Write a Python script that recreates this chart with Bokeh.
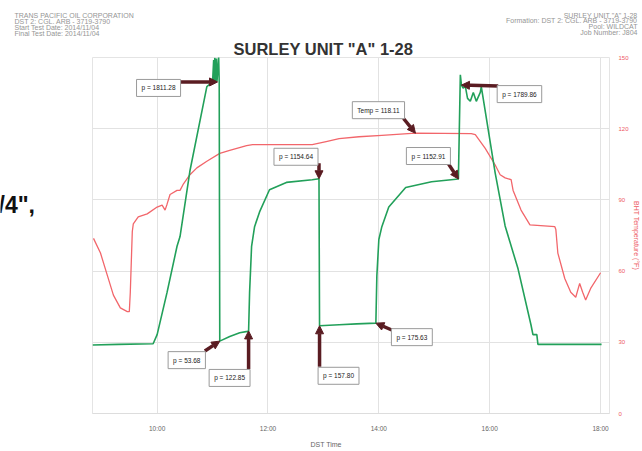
from bokeh.plotting import figure
from bokeh.models import Range1d, FixedTicker, Label, Arrow, NormalHead, ColumnDataSource, Title
from bokeh.layouts import column, row
from bokeh.core.properties import value
from bokeh.embed import file_html
from bokeh.resources import INLINE

# ---------------- data ----------------
# pressure trace (hours, psi)
time_p = [8.834, 9.3, 9.928, 10.0, 10.179, 10.359, 10.413, 10.592, 10.897, 11.0,
          11.02, 11.03, 11.04, 11.05, 11.07, 11.08, 11.11, 11.12, 11.13,
          11.31, 11.49, 11.63, 11.65,
          11.668, 11.704, 11.758, 11.848, 12.027, 12.332, 12.798, 12.92,
          12.93, 13.283, 13.60, 13.946,
          13.964, 14.0, 14.054, 14.179, 14.484, 14.951, 15.435,
          15.47, 15.49, 15.52, 15.561, 15.60, 15.650, 15.704, 15.758, 15.830, 15.848,
          16.099, 16.278, 16.511, 16.744, 16.780, 16.85, 16.870, 18.018]
pressure = [28, 32, 36, 98, 384, 697, 763, 1209, 1780, 1811.28,
            1960, 1800, 1975, 1810, 1970, 1815, 1980, 1811, 53.68,
            85, 110, 120, 122.85,
            384, 697, 830, 930, 1080, 1130, 1148, 1154.64,
            157.80, 165, 171, 175.63,
            497, 743, 830, 963, 1096, 1135, 1152.91,
            1860, 1789.86, 1770, 1780, 1700, 1680, 1740, 1680, 1740, 1780,
            1193, 835, 544, 165, 98, 98, 32, 32]

# temperature trace (hours, deg F)
time_t = [8.852, 8.978, 9.103, 9.211, 9.336, 9.462, 9.498, 9.516, 9.552, 9.570,
          9.659, 9.821, 10.0, 10.090, 10.143, 10.179, 10.233, 10.359, 10.413, 10.466,
          10.592, 10.717, 10.897, 11.130, 11.309, 11.614, 11.722, 12.798, 13.049, 13.283,
          13.641, 14.054, 14.66, 15.668, 15.740, 15.919, 16.099, 16.188, 16.278, 16.386,
          16.422, 16.565, 16.726, 17.175, 17.193, 17.229, 17.354, 17.462, 17.552, 17.623,
          17.677, 17.731, 17.821, 18.0]
temperature = [73.8, 67.6, 58.1, 49.9, 44.5, 42.9, 42.9, 51.1, 76.7, 79.9,
               82.8, 84.1, 87.0, 87.8, 85.7, 88.2, 92.3, 94.0, 94.0, 96.4,
               100.6, 103.5, 106.3, 109.6, 110.9, 112.9, 113.3, 113.3, 114.6, 115.8,
               116.6, 117.2, 118.11, 117.9, 117.5, 111.7, 104.7, 100.6, 99.3, 98.5,
               94.0, 85.7, 79.5, 78.7, 77.5, 67.6, 56.9, 51.1, 49.0, 54.8,
               51.1, 47.8, 52.7, 59.3]

# annotated points
ann_time = [11.09, 12.92, 14.66, 15.435, 15.49, 11.13, 11.65, 12.93, 13.946]
ann_value = [1811.28, 1154.64, 118.11, 1152.91, 1789.86, 53.68, 122.85, 157.80, 175.63]
ann_text = ["p = 1811.28", "p = 1154.64", "Temp = 118.11", "p = 1152.91", "p = 1789.86",
            "p = 53.68", "p = 122.85", "p = 157.80", "p = 175.63"]
ann_kind = ["p", "p", "t", "p", "p", "p", "p", "p", "p"]

x_ticks = [10, 12, 14, 16, 18]
x_tick_labels = ["10:00", "12:00", "14:00", "16:00", "18:00"]
t_ticks = [0, 30, 60, 90, 120, 150]

header_left = ["TRANS PACIFIC OIL CORPORATION", "DST 2: CGL. ARB - 3719-3790",
               "Start Test Date: 2014/11/04", "Final Test Date: 2014/11/04"]
header_right = ["SURLEY UNIT \"A\" 1-28", "Formation: DST 2: CGL. ARB - 3719-3790",
                "Pool: WILDCAT", "Job Number: J804"]
title_text = "SURLEY UNIT \"A\" 1-28"
x_label = "DST Time"
y_label = "BHT Temperature (°F)"
fragment_text = "/4\","

# ---------------- layout / styles ----------------
FONT = "Liberation Sans"
X0, X1 = 8.834, 18.161
P0, P1 = -437, 1977
T0, T1 = 0, 150
FW, FH = 520, 364
LEFT_W = 92
TOP_H = 36
MAIN_W = 550
MAIN_H = 415

# label box offsets (px right, px down) and arrow start vectors (px right, px down)
box_off = [(-59, 6), (-23, -22), (-37, -23), (-30, -23), (58, 9),
           (-33, 19), (-19, 47), (19, 50), (36, 14)]
arr_vec = [(-37, 0), (0, -16), (-12, -15), (-11, -17), (37, 1),
           (-15, 10), (0, 39), (0, 42), (16, 7)]

# ---------------- header strip ----------------
top = figure(width=LEFT_W + MAIN_W, height=TOP_H, output_backend="svg", toolbar_location=None,
             x_range=Range1d(0, LEFT_W + MAIN_W), y_range=Range1d(TOP_H, 0),
             x_axis_location=None, y_axis_location=None,
             min_border=0, outline_line_color=None)
top.xgrid.grid_line_color = None
top.ygrid.grid_line_color = None
top.text(x=[14] * len(header_left), y=[14.5 + 6.0 * i for i in range(len(header_left))],
         text=header_left, text_font=value(FONT), text_font_size="7px",
         text_color="#959595", text_align="left", text_baseline="middle")
top.text(x=[637] * len(header_right), y=[14.5 + 5.8 * i for i in range(len(header_right))],
         text=header_right, text_font=value(FONT), text_font_size="7px",
         text_color="#959595", text_align="right", text_baseline="middle")

# ---------------- left strip ----------------
left = figure(width=LEFT_W, height=MAIN_H, output_backend="svg", toolbar_location=None,
              x_range=Range1d(0, LEFT_W), y_range=Range1d(MAIN_H + TOP_H, TOP_H),
              x_axis_location=None, y_axis_location=None,
              min_border=0, outline_line_color=None)
left.xgrid.grid_line_color = None
left.ygrid.grid_line_color = None
left.text(x=[-2], y=[208], text=[fragment_text], text_font=value(FONT), text_font_size="23px",
          text_font_style="bold", text_color="#111111", text_align="left",
          text_baseline="alphabetic")

# ---------------- main chart ----------------
p = figure(width=MAIN_W, height=MAIN_H, output_backend="svg", toolbar_location=None,
           x_range=Range1d(X0, X1), y_range=Range1d(T0, T1),
           y_axis_location="right", min_border_left=0, min_border_top=21,
           min_border_bottom=30, min_border_right=30)
p.title.text = title_text
p.title.align = "left"
p.title.offset = 141
p.title.standoff = 0
p.title.text_font = FONT
p.title.text_font_size = "16.5px"
p.title.text_font_style = "bold"
p.title.text_color = "#333333"
p.extra_y_ranges = {"pressure": Range1d(P0, P1)}
p.background_fill_color = "white"
p.border_fill_color = "white"
p.outline_line_color = "#e4e4e4"

xa = p.xaxis[0]
xa.ticker = FixedTicker(ticks=x_ticks)
xa.major_label_overrides = {t: l for t, l in zip(x_ticks, x_tick_labels)}
xa.axis_line_color = "#dddddd"
xa.major_tick_line_color = None
xa.minor_tick_line_color = None
xa.major_label_text_font = FONT
xa.major_label_text_font_size = "6.5px"
xa.major_label_text_color = "#666666"
xa.major_label_standoff = 5

p.add_layout(Title(text=x_label, align="left", offset=218, standoff=8,
                   text_font=FONT, text_font_size="7px", text_font_style="normal",
                   text_color="#666666"), "below")

ya = p.yaxis[0]
ya.ticker = FixedTicker(ticks=t_ticks)
ya.axis_label = y_label
ya.axis_line_color = None
ya.major_tick_line_color = None
ya.minor_tick_line_color = None
ya.major_label_text_font = FONT
ya.major_label_text_font_size = "6px"
ya.major_label_text_color = "#ee5a5f"
ya.major_label_standoff = 3
ya.axis_label_text_font = FONT
ya.axis_label_text_font_size = "7px"
ya.axis_label_text_font_style = "normal"
ya.axis_label_text_color = "#ee5a5f"
ya.axis_label_standoff = 1

p.xgrid.grid_line_color = "#e2e2e2"
p.ygrid.grid_line_color = "#e2e2e2"
p.xgrid.ticker = FixedTicker(ticks=x_ticks)
p.ygrid.ticker = FixedTicker(ticks=t_ticks)

src_t = ColumnDataSource(dict(x=time_t, y=temperature))
src_p = ColumnDataSource(dict(x=time_p, y=pressure))
p.line("x", "y", source=src_t, line_color="#f2666b", line_width=1.3)
p.line("x", "y", source=src_p, line_color="#22a05a", line_width=1.6, y_range_name="pressure")

pxh = FW / (X1 - X0)
pxp = FH / (P1 - P0)
pxt = FH / (T1 - T0)
for t, v, txt, kind, (bx, by), (ax_, ay_) in zip(ann_time, ann_value, ann_text, ann_kind, box_off, arr_vec):
    rng = "pressure" if kind == "p" else "default"
    sc = pxp if kind == "p" else pxt
    xs = t + ax_ / pxh
    ys = v - ay_ / sc
    p.add_layout(Arrow(end=NormalHead(size=8, fill_color="#5a1c22", line_color="#5a1c22"),
                       x_start=xs, y_start=ys, x_end=t, y_end=v,
                       line_color="#5a1c22", line_width=3.5, y_range_name=rng))
    p.add_layout(Label(x=t, y=v, x_offset=bx, y_offset=-by, text=txt, y_range_name=rng,
                       text_align="center", text_baseline="middle",
                       text_font=FONT, text_font_size="6.5px", text_color="#222222",
                       background_fill_color="white", border_line_color="#9a9a9a",
                       border_line_width=1, padding=5))

layout = column(top, row(left, p, spacing=0), spacing=0)
open("out.html", "w").write(file_html(layout, INLINE))
